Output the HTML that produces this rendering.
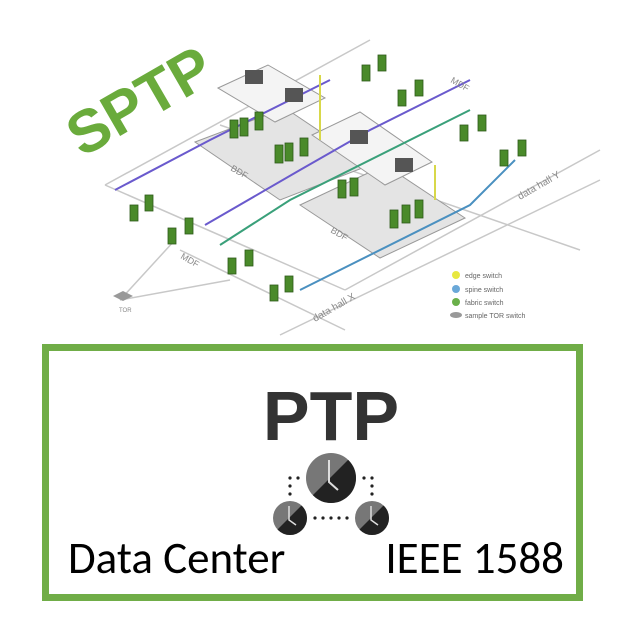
<!DOCTYPE html>
<html><head><meta charset="utf-8"><style>
html,body{margin:0;padding:0;background:#fff;}
body{width:619px;height:637px;position:relative;overflow:hidden;font-family:"Liberation Sans",sans-serif;}
.box{position:absolute;left:42px;top:344px;width:527px;height:243px;border:7px solid #70ad47;}
</style></head><body>
<svg width="619" height="340" style="position:absolute;left:0;top:0" xmlns="http://www.w3.org/2000/svg">
 <g fill="none" stroke="#c8c8c8" stroke-width="1.5">
  <line x1="105" y1="185" x2="370" y2="40"/>
  <line x1="105" y1="185" x2="345" y2="290"/>
  <line x1="220" y1="125" x2="580" y2="250"/>
  <line x1="345" y1="290" x2="600" y2="150"/>
  <line x1="280" y1="335" x2="600" y2="180"/>
  <line x1="180" y1="250" x2="345" y2="330"/>
  <line x1="120" y1="300" x2="175" y2="240"/>
  <line x1="120" y1="300" x2="230" y2="280"/>
 </g>
 <polygon points="195,142 285,108 370,165 280,200" fill="#e4e4e4" stroke="#999"/>
 <polygon points="300,205 385,165 465,218 380,258" fill="#e4e4e4" stroke="#999"/>
 <polygon points="218,88 268,65 325,98 275,122" fill="#f4f4f4" stroke="#999"/>
 <polygon points="312,135 360,112 432,162 385,185" fill="#f4f4f4" stroke="#999"/>
 <g fill="none" stroke-width="2">
  <path d="M115,190 L210,140 L330,80" stroke="#6a5acd"/>
  <path d="M205,225 L300,170 L370,130 L470,80" stroke="#6a5acd"/>
  <path d="M220,245 L290,200 L470,110" stroke="#3aa07a"/>
  <path d="M300,290 L470,205 L515,160" stroke="#4a90c0"/>
  <line x1="320" y1="75" x2="320" y2="140" stroke="#d8d84a"/>
  <line x1="435" y1="165" x2="435" y2="200" stroke="#d8d84a"/>
 </g>
 <g fill="#4a8a2a" stroke="#2d5a1a" stroke-width="0.8">
  <rect x="230" y="120" width="8" height="18"/><rect x="240" y="118" width="8" height="18"/><rect x="255" y="112" width="8" height="18"/>
  <rect x="275" y="145" width="8" height="18"/><rect x="285" y="143" width="8" height="18"/><rect x="300" y="138" width="8" height="18"/>
  <rect x="338" y="180" width="8" height="18"/><rect x="350" y="178" width="8" height="18"/>
  <rect x="390" y="210" width="8" height="18"/><rect x="402" y="205" width="8" height="18"/><rect x="415" y="200" width="8" height="18"/>
  <rect x="130" y="205" width="8" height="16"/><rect x="145" y="195" width="8" height="16"/>
  <rect x="168" y="228" width="8" height="16"/><rect x="185" y="218" width="8" height="16"/>
  <rect x="228" y="258" width="8" height="16"/><rect x="245" y="250" width="8" height="16"/>
  <rect x="270" y="285" width="8" height="16"/><rect x="285" y="276" width="8" height="16"/>
  <rect x="362" y="65" width="8" height="16"/><rect x="378" y="55" width="8" height="16"/>
  <rect x="398" y="90" width="8" height="16"/><rect x="415" y="80" width="8" height="16"/>
  <rect x="460" y="125" width="8" height="16"/><rect x="478" y="115" width="8" height="16"/>
  <rect x="500" y="150" width="8" height="16"/><rect x="518" y="140" width="8" height="16"/>
 </g>
 <g fill="#555"><rect x="245" y="70" width="18" height="14"/><rect x="285" y="88" width="18" height="14"/><rect x="350" y="130" width="18" height="14"/><rect x="395" y="158" width="18" height="14"/></g>
 <polygon points="113,296 123,291 133,296 123,301" fill="#999"/>
 <text x="119" y="312" font-size="6" fill="#888">TOR</text>
 <circle cx="456" cy="275" r="4" fill="#e8e840"/><circle cx="456" cy="289" r="4" fill="#6aa8d8"/><circle cx="456" cy="302" r="4" fill="#6ab04a"/><ellipse cx="456" cy="315" rx="6" ry="3" fill="#999"/>
 <g font-size="7" fill="#666"><text x="465" y="278">edge switch</text><text x="465" y="292">spine switch</text><text x="465" y="305">fabric switch</text><text x="465" y="318">sample TOR switch</text></g>
 <text x="315" y="322" font-size="10" fill="#888" transform="rotate(-30 315 322)">data hall X</text>
 <text x="520" y="200" font-size="10" fill="#888" transform="rotate(-30 520 200)">data hall Y</text>
 <text x="230" y="170" font-size="9" fill="#888" transform="rotate(30 230 170)">BDF</text>
 <text x="330" y="232" font-size="9" fill="#888" transform="rotate(30 330 232)">BDF</text>
 <text x="180" y="258" font-size="9" fill="#888" transform="rotate(30 180 258)">MDF</text>
 <text x="450" y="82" font-size="9" fill="#888" transform="rotate(30 450 82)">MDF</text>
 <text x="82" y="158" font-size="60" font-weight="bold" fill="#6aab3c" transform="rotate(-30 82 158)" font-family="Liberation Sans,sans-serif">SPTP</text>
</svg>
<div class="box"></div>
<svg width="619" height="637" style="position:absolute;left:0;top:0" xmlns="http://www.w3.org/2000/svg">
 <text x="331" y="440" text-anchor="middle" font-size="70" font-weight="bold" fill="#333" font-family="Liberation Sans,sans-serif">PTP</text>
 <g fill="#222">
  <circle cx="290" cy="478" r="1.6"/><circle cx="290" cy="486" r="1.6"/><circle cx="290" cy="494" r="1.6"/><circle cx="298" cy="478" r="1.6"/>
  <circle cx="372" cy="478" r="1.6"/><circle cx="372" cy="486" r="1.6"/><circle cx="372" cy="494" r="1.6"/><circle cx="364" cy="478" r="1.6"/>
  <circle cx="315" cy="518" r="1.6"/><circle cx="323" cy="518" r="1.6"/><circle cx="331" cy="518" r="1.6"/><circle cx="339" cy="518" r="1.6"/><circle cx="347" cy="518" r="1.6"/>
 </g>
 <defs><clipPath id="c1"><circle cx="331" cy="478" r="25"/></clipPath><clipPath id="c2"><circle cx="290" cy="518" r="17"/></clipPath><clipPath id="c3"><circle cx="372" cy="518" r="17"/></clipPath></defs>
 <g clip-path="url(#c1)"><rect x="300" y="450" width="62" height="62" fill="#777"/><polygon points="356,452 356,505 303,505" fill="#222"/></g>
 <path d="M329,460 L329,482 L338,490" stroke="#ddd" stroke-width="2" fill="none"/>
 <g clip-path="url(#c2)"><rect x="270" y="498" width="40" height="40" fill="#777"/><polygon points="307,500 307,537 270,537" fill="#222"/></g>
 <path d="M289,506 L289,520 L296,525" stroke="#ddd" stroke-width="1.5" fill="none"/>
 <g clip-path="url(#c3)"><rect x="352" y="498" width="40" height="40" fill="#777"/><polygon points="389,500 389,537 352,537" fill="#222"/></g>
 <path d="M371,506 L371,520 L378,525" stroke="#ddd" stroke-width="1.5" fill="none"/>
 <text x="68" y="573" font-size="45" fill="#000" font-family="Carlito,Liberation Sans,sans-serif">Data Center</text>
 <text x="564" y="573" text-anchor="end" font-size="45" fill="#000" font-family="Carlito,Liberation Sans,sans-serif">IEEE 1588</text>
</svg>
</body></html>
